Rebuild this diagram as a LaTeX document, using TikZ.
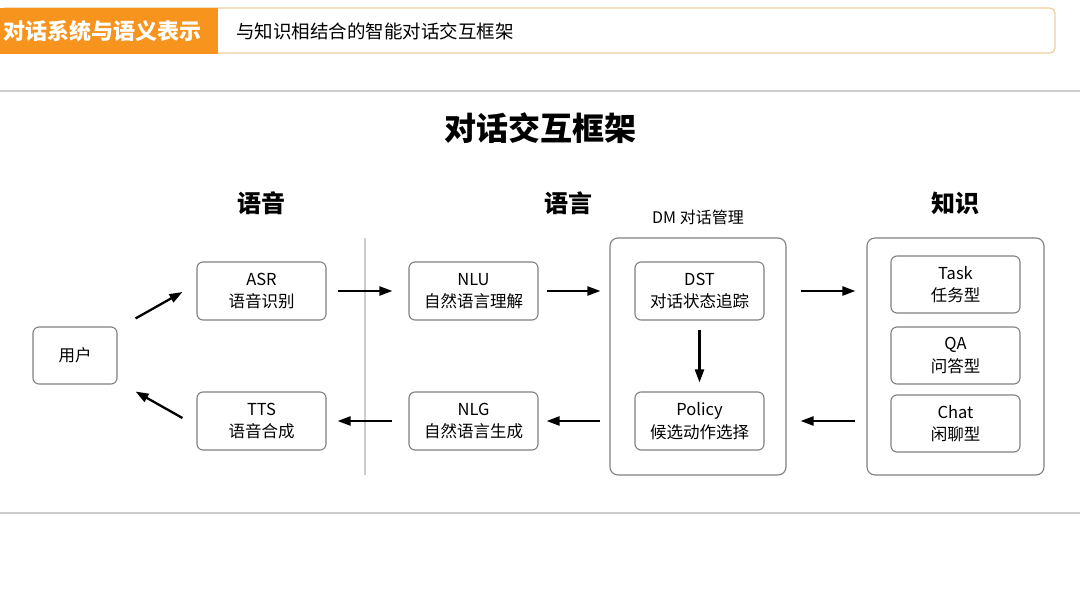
\documentclass[tikz,border=0pt]{standalone}
\usepackage{fontspec}
\setmainfont{Noto Sans CJK SC}
\usepackage{tikz}
\usetikzlibrary{calc,positioning,arrows.meta}
\definecolor{hdrorange}{RGB}{247,148,30}
\definecolor{hdrline}{RGB}{238,208,160}
\definecolor{rulegray}{RGB}{205,205,205}
\definecolor{boxgray}{RGB}{128,128,128}
\tikzset{
  modbox/.style={draw=boxgray, rounded corners=6pt, line width=1.1pt,
                 minimum width=129pt, minimum height=58pt, inner sep=0pt,
                 align=center, font=\fontsize{16.5}{22.5}\selectfont},
  groupbox/.style={draw=boxgray, rounded corners=8pt, line width=1.1pt,
                   minimum width=177pt, minimum height=237pt},
  flow/.style={-{Triangle[length=13pt,width=9pt]}, line width=2.3pt, black},
  colhead/.style={font=\fontsize{24}{24}\selectfont\bfseries},
  divline/.style={rulegray, line width=1.1pt},
}

\begin{document}
\begin{tikzpicture}[x=1pt,y=-1pt]
  \useasboundingbox (0,0) rectangle (1080,602);
  % kopfleiste
  \draw[hdrline, line width=1.3pt, fill=white, rounded corners=5pt] (0,8) rectangle (1055,53);
  \fill[hdrorange] (0,8) rectangle (218,54);
  \node[anchor=west, white, font=\fontsize{22}{22}\selectfont\bfseries, inner sep=0pt] (sect) at (3,31) {对话系统与语义表示};
  \node[anchor=west, font=\fontsize{18.5}{19}\selectfont, inner sep=0pt] (topic) at (236,31) {与知识相结合的智能对话交互框架};
  \draw[divline] (0,91) -- (1080,91);
  \draw[divline] (0,513) -- (1080,513);
  % titel und spalten
  \node[font=\fontsize{32}{32}\selectfont\bfseries] (title) at (540,128) {对话交互框架};
  \node[colhead] (hspeech) at (261,203) {语音};
  \node[colhead] (hlang) at (568,203) {语言};
  \node[colhead] (hknow) at (955,203) {知识};
  \node[font=\fontsize{16}{16}\selectfont] (hdm) at (698,217) {DM 对话管理};
  \draw[divline] (365,238) -- (365,475);
  % gruppen
  \node[groupbox, minimum width=176pt] (dm) at (698,356.5) {};
  \node[groupbox] (know) at (955.5,356.5) {};
  % module
  \node[modbox, minimum width=84pt, minimum height=57pt] (user) at (75,355.5) {用户};
  \node[modbox] (asr) at (261.5,291) {ASR\\语音识别};
  \node[modbox] (tts) at (261.5,421) {TTS\\语音合成};
  \node[modbox] (nlu) at (473.5,291) {NLU\\自然语言理解};
  \node[modbox] (nlg) at (473.5,421) {NLG\\自然语言生成};
  \node[modbox] (dst) at (699.5,291) {DST\\对话状态追踪};
  \node[modbox] (policy) at (699.5,421) {Policy\\候选动作选择};
  \node[modbox, minimum height=57pt] (task) at (955.5,284.5) {Task\\任务型};
  \node[modbox, minimum height=57pt] (qa) at (955.5,355.5) {QA\\问答型};
  \node[modbox, minimum height=57pt] (chat) at (955.5,423.5) {Chat\\闲聊型};
  % pfeile
  \draw[flow] ([shift={(18,-8)}]user.north east) -- ([shift={(-14,1)}]asr.west);
  \draw[flow] ([shift={(-14,-3)}]tts.west) -- ([shift={(18,7)}]user.south east);
  \draw[flow, shorten <=11pt, shorten >=16pt] (asr.east) -- (nlu.west);
  \draw[flow, shorten <=8pt, shorten >=9pt] (nlu.east) -- (nlu.east -| dm.west);
  \draw[flow, shorten <=14pt, shorten >=11pt] (dst -| dm.east) -- (dst -| know.west);
  \draw[flow, shorten <=11pt, shorten >=14pt] (policy -| know.west) -- (policy -| dm.east);
  \draw[flow, shorten <=9pt, shorten >=8pt] (policy -| dm.west) -- (nlg.east);
  \draw[flow, shorten <=16pt, shorten >=11pt] (nlg.west) -- (tts.east);
  \draw[flow, shorten <=9pt, shorten >=9pt] (dst.south) -- (policy.north);
\end{tikzpicture}
\end{document}
